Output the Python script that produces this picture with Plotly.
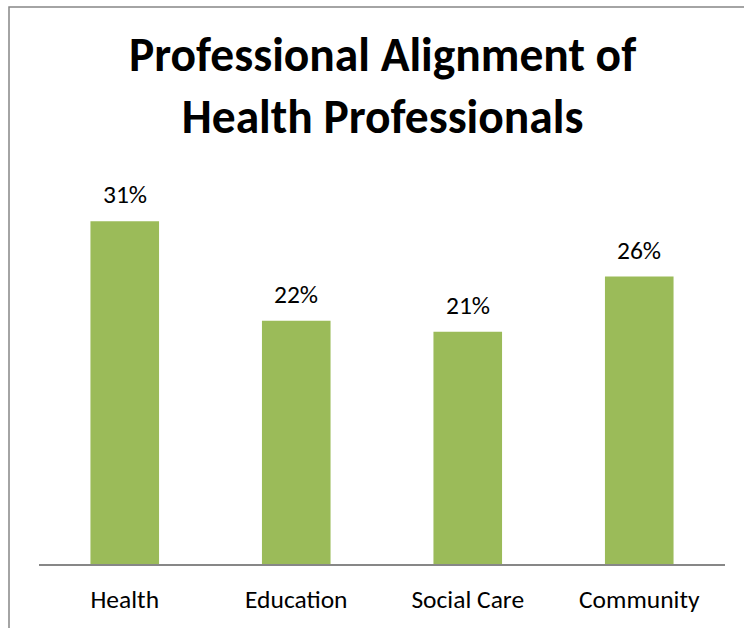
import plotly.graph_objects as go

categories = ["Health", "Education", "Social Care", "Community"]
shares = [0.31, 0.22, 0.21, 0.26]
labels = ["31%", "22%", "21%", "26%"]
title_lines = ["Professional Alignment of", "Health Professionals"]

FONT = "Carlito, Lato, sans-serif"
BAR_COLOR = "#9BBB59"
GRAY = "#878787"

# plot-area geometry in pixels
W, H = 744, 628
L, R, T, B = 39, 19, 177, 64
pw, ph = W - L - R, H - T - B

fig = go.Figure(
    go.Bar(
        x=categories,
        y=shares,
        marker=dict(color=BAR_COLOR, line=dict(width=0)),
        width=0.4,
        hoverinfo="skip",
    )
)

# value labels above each bar
for cat, val, lab in zip(categories, shares, labels):
    fig.add_annotation(
        x=cat, y=val, text=lab, showarrow=False,
        yanchor="bottom", yshift=9,
        font=dict(family=FONT, size=25.5, color="black"),
    )

# two-line bold title
fig.add_annotation(
    xref="paper", yref="paper",
    x=0.5, xanchor="center",
    y=(H - B - 24) / ph, yanchor="top",
    text="<br>".join(f"<b>{t}</b>" for t in title_lines),
    showarrow=False, align="center",
    font=dict(family=FONT, size=47.5, color="black"),
)

# chart frame
fig.add_shape(
    type="rect", xref="paper", yref="paper",
    x0=(9 - L) / pw, x1=(W + 20 - L) / pw,
    y0=-(B + 20) / ph, y1=(H - B - 7) / ph,
    line=dict(color=GRAY, width=1.5), fillcolor="rgba(0,0,0,0)",
    layer="below",
)

fig.update_layout(
    width=W, height=H,
    margin=dict(l=L, r=R, t=T, b=B),
    paper_bgcolor="white", plot_bgcolor="white",
    showlegend=False,
    xaxis=dict(
        showline=True, linecolor=GRAY, linewidth=1.5,
        showgrid=False, ticks="", zeroline=False,
        tickfont=dict(family=FONT, size=25.5, color="black"),
        ticklabelstandoff=12,
        fixedrange=True,
    ),
    yaxis=dict(
        range=[0, 0.35], visible=False, showgrid=False, zeroline=False,
        fixedrange=True,
    ),
)

fig.write_html("out.html")
